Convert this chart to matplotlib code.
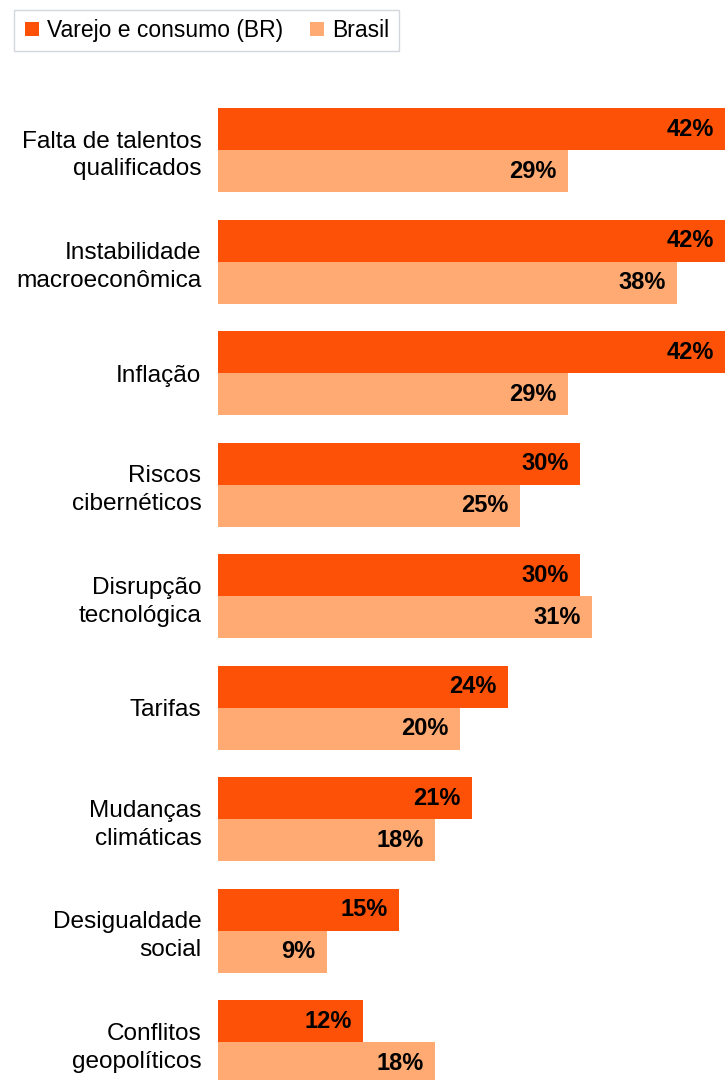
import matplotlib
matplotlib.use("Agg")
import matplotlib.pyplot as plt
from matplotlib.lines import Line2D

plt.rcParams['font.family'] = ['Liberation Sans', 'DejaVu Sans']

categories = [
    "Falta de talentos\nqualificados",
    "Instabilidade\nmacroeconômica",
    "Inflação",
    "Riscos\ncibernéticos",
    "Disrupção\ntecnológica",
    "Tarifas",
    "Mudanças\nclimáticas",
    "Desigualdade\nsocial",
    "Conflitos\ngeopolíticos",
]
varejo = [42, 42, 42, 30, 30, 24, 21, 15, 12]
brasil = [29, 38, 29, 25, 31, 20, 18, 9, 18]
series_names = ["Varejo e consumo (BR)", "Brasil"]

c_dark = "#FE5108"
c_light = "#FFAA72"

W, H = 727, 1080
fig = plt.figure(figsize=(W / 100, H / 100), dpi=100)
ax = fig.add_axes([218 / W, 0, 1 - 218 / W, 1 - 108 / H])

h = 0.377
pos = list(range(len(categories)))
ax.barh([p - h / 2 for p in pos], varejo, height=h, color=c_dark, linewidth=0)
ax.barh([p + h / 2 for p in pos], brasil, height=h, color=c_light, linewidth=0)

ax.set_xlim(0, 42.15)
ax.set_ylim(8.34, -h)

pad = 0.95
for p, v in zip(pos, varejo):
    ax.text(v - pad, p - h / 2, f"{v}%", ha="right", va="center",
            fontsize=17, fontweight="bold", color="black")
for p, v in zip(pos, brasil):
    ax.text(v - pad, p + h / 2, f"{v}%", ha="right", va="center",
            fontsize=17, fontweight="bold", color="black")

ax.set_yticks(pos)
ax.set_yticklabels(categories, fontsize=17.6, linespacing=1.35, ha="right")
ax.tick_params(axis="y", length=0, pad=12)
ax.set_xticks([])
for s in ax.spines.values():
    s.set_visible(False)

handles = [
    Line2D([], [], marker="s", linestyle="none", markersize=9.5,
           markerfacecolor=c_dark, markeredgewidth=0),
    Line2D([], [], marker="s", linestyle="none", markersize=9.5,
           markerfacecolor=c_light, markeredgewidth=0),
]
leg = fig.legend(handles, series_names, loc="upper left",
                 bbox_to_anchor=(14 / W, 1 - 10 / H), ncol=2,
                 fontsize=16.5, frameon=True, fancybox=False,
                 handlelength=0.75, handletextpad=0.3, columnspacing=1.1,
                 borderpad=0.4, borderaxespad=0)
leg.get_frame().set_edgecolor("#c8ccd4")
leg.get_frame().set_linewidth(1.0)

fig.savefig("out.png", dpi=100)
